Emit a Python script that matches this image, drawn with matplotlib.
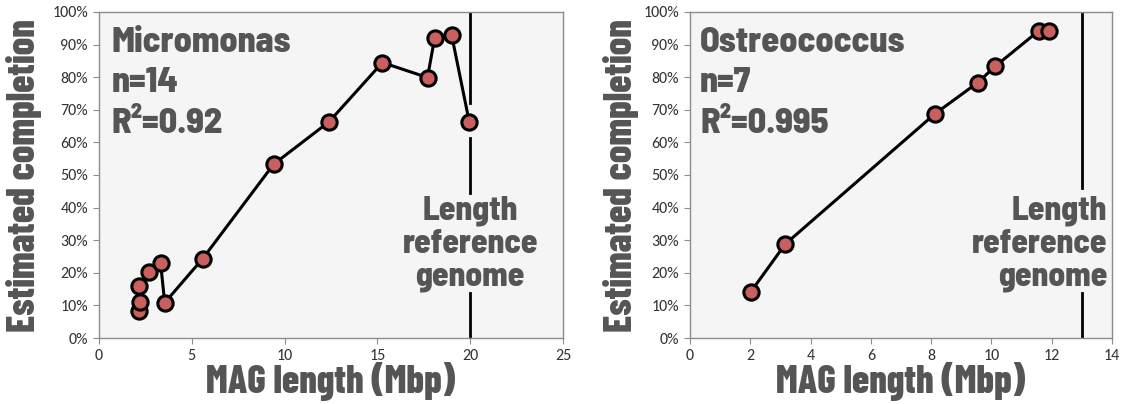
import matplotlib
matplotlib.use("Agg")
import matplotlib.pyplot as plt
from matplotlib import font_manager

# ---- data ----
micro_len = [2.15, 2.2, 2.15, 2.7, 3.32, 3.54, 5.58, 9.41, 12.39, 15.27, 17.7, 18.08, 19.0, 19.95]
micro_comp = [8.3, 11.1, 16.0, 20.3, 22.9, 10.8, 24.3, 53.3, 66.3, 84.5, 79.9, 91.9, 92.9, 66.3]
ostreo_len = [2.02, 3.16, 8.13, 9.54, 10.12, 11.58, 11.91]
ostreo_comp = [14.2, 28.8, 68.8, 78.3, 83.3, 94.3, 94.3]
micro_ref = 20
ostreo_ref = 13
micro_xticks = [0, 5, 10, 15, 20, 25]
ostreo_xticks = [0, 2, 4, 6, 8, 10, 12, 14]
yticks = list(range(0, 101, 10))
micro_labels = ["Micromonas", "n=14", "R²=0.92"]
ostreo_labels = ["Ostreococcus", "n=7", "R²=0.995"]
ref_lines = ["Length", "reference", "genome"]

names = {f.name for f in font_manager.fontManager.ttflist}


def pick(options):
    for o in options:
        if o in names:
            return o
    return "DejaVu Sans"


annfont = pick(["Barlow Semi Condensed", "Barlow Condensed", "Roboto Condensed"])
labfont = pick(["Barlow Condensed", "Roboto Condensed", "Anton"])
tickfont = pick(["Carlito", "Open Sans", "Liberation Sans"])

TXT = "#555555"
BG = "#f5f5f5"
FILL = "#c9605f"
BW = 800

W, H = 1139, 404
fig = plt.figure(figsize=(W / 100, H / 100), dpi=100)
Y0, Y1 = 12, 338
ax1 = fig.add_axes([99 / W, 1 - Y1 / H, (563 - 99) / W, (Y1 - Y0) / H])
ax2 = fig.add_axes([690 / W, 1 - Y1 / H, (1112 - 690) / W, (Y1 - Y0) / H])


def py(pix):  # pixel row -> axes fraction
    return (Y1 - pix) / (Y1 - Y0)


def setup(ax, xs, ys, ref, xticks, xmax, labels, ref_x, ref_ha, title_x, gaps):
    ax.set_facecolor(BG)
    ax.set_xlim(0, xmax)
    ax.set_ylim(0, 100)
    ax.set_xticks(xticks)
    ax.set_yticks(yticks)
    ax.set_yticklabels([f"{t}%" for t in yticks])
    for s in ax.spines.values():
        s.set_color("#8c8c8c")
        s.set_linewidth(1)
    ax.tick_params(direction="out", length=4, color="#8c8c8c", labelsize=11.5,
                   labelcolor="#333333", pad=4)
    for lab in ax.get_xticklabels() + ax.get_yticklabels():
        lab.set_fontfamily(tickfont)
    # reference line drawn in segments, leaving gaps (axes fractions)
    edges = [0.0] + [g for pair in gaps for g in pair] + [1.0]
    for a, b in zip(edges[0::2], edges[1::2]):
        ax.axvline(ref, ymin=a, ymax=b, color="black", lw=2, zorder=1)
    ax.plot(xs, ys, "-", color="black", lw=2.2, zorder=3)
    ax.plot(xs, ys, "o", ms=11, mfc=FILL, mec="black", mew=2.2, zorder=4)
    for line, base in zip(ref_lines, [220, 253, 285]):
        ax.text(ref_x, py(base), line, transform=ax.get_xaxis_transform(),
                ha=ref_ha, va="baseline", fontsize=24, fontweight=BW, color=TXT,
                family=annfont, zorder=5)
    for line, base in zip(labels, [52, 92, 133]):
        ax.text(title_x, py(base), line, transform=ax.transAxes, ha="left", va="baseline",
                fontsize=26, fontweight=BW, color=TXT, family=annfont, zorder=5)


setup(ax1, micro_len, micro_comp, micro_ref, micro_xticks, 25, micro_labels,
      micro_ref, "center", 0.028, [(py(293), py(193)), (py(138), py(103))])
setup(ax2, ostreo_len, ostreo_comp, ostreo_ref, ostreo_xticks, 14, ostreo_labels,
      13.84, "right", 0.024, [(py(293), py(188))])

for xc in (331, 901):
    fig.text(xc / W, 1 - 393 / H, "MAG length (Mbp)", ha="center", va="baseline",
             fontsize=28, fontweight=BW, color=TXT, family=labfont)
for xc in (24, 621):
    fig.text(xc / W, 1 - 176 / H, "Estimated completion", ha="center", va="center",
             rotation=90, fontsize=28, fontweight=BW, color=TXT, family=labfont)

fig.savefig("out.png", dpi=100, facecolor="white")
